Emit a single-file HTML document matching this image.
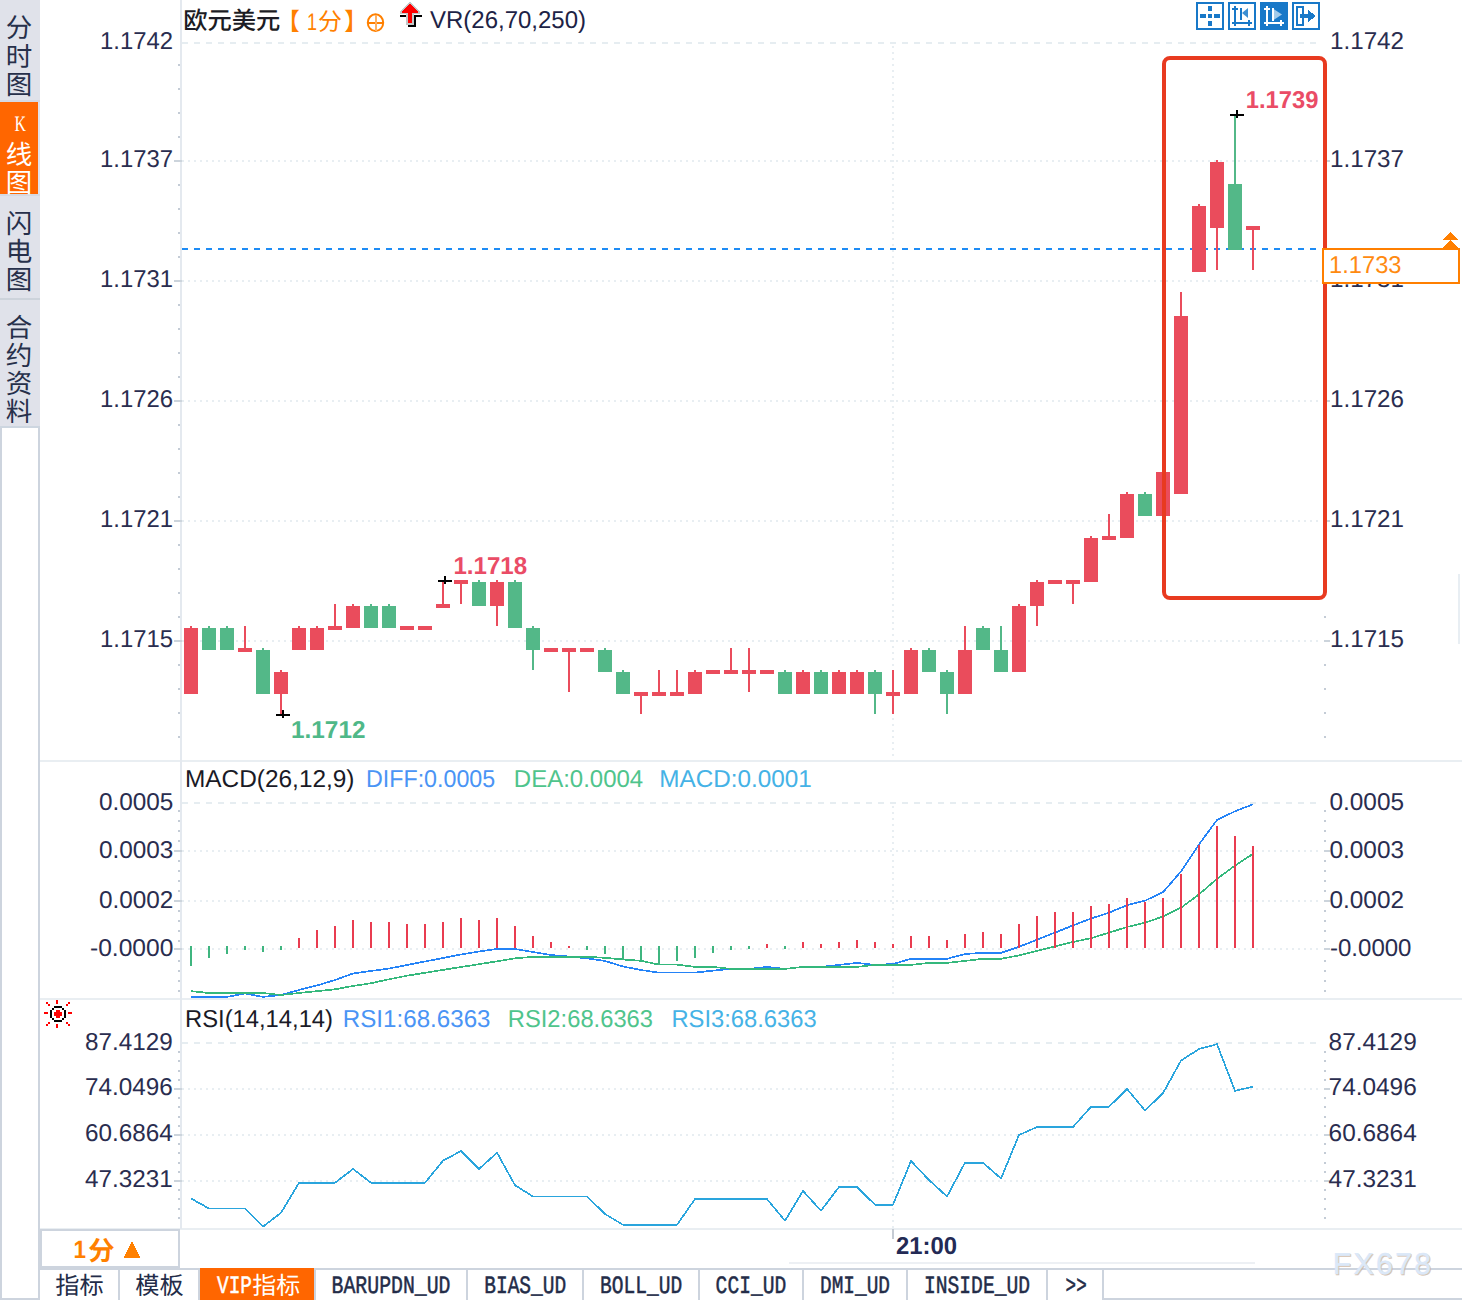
<!DOCTYPE html>
<html><head><meta charset="utf-8"><title>chart</title>
<style>
html,body{margin:0;padding:0;background:#fff}
body{width:1462px;height:1300px;overflow:hidden;font-family:"Liberation Sans",sans-serif}
svg{display:block}
</style></head><body>
<svg width="1462" height="1300" viewBox="0 0 1462 1300" shape-rendering="crispEdges" text-rendering="geometricPrecision">
<rect x="0" y="0" width="1462" height="1300" fill="#fff"/>
<rect x="0" y="0" width="40" height="426" fill="#e0e2ea"/>
<rect x="0" y="102" width="38" height="92" fill="#ff6600"/>
<rect x="0" y="100" width="40" height="2" fill="#d5d9e2"/>
<rect x="0" y="194" width="40" height="2" fill="#d5d9e2"/>
<rect x="0" y="298" width="40" height="2" fill="#cdd3db"/>
<rect x="0" y="426" width="40" height="874" fill="#fff"/>
<rect x="0" y="426" width="2" height="874" fill="#cdd4de"/>
<rect x="38" y="426" width="2" height="874" fill="#cdd4de"/>
<rect x="0" y="1298" width="40" height="2" fill="#cdd4de"/>
<rect x="0" y="426" width="40" height="2" fill="#cdd6e0"/>
<text x="5.75" y="36.6" font-family="'Liberation Sans','Noto Sans CJK SC',sans-serif" font-size="26.5" fill="#27304a">分</text>
<text x="5.75" y="65.6" font-family="'Liberation Sans','Noto Sans CJK SC',sans-serif" font-size="26.5" fill="#27304a">时</text>
<text x="5.75" y="93.6" font-family="'Liberation Sans','Noto Sans CJK SC',sans-serif" font-size="26.5" fill="#27304a">图</text>
<text x="5.75" y="163.6" font-family="'Liberation Sans','Noto Sans CJK SC',sans-serif" font-size="26.5" fill="#fff">线</text>
<text x="5.75" y="191.6" font-family="'Liberation Sans','Noto Sans CJK SC',sans-serif" font-size="26.5" fill="#fff">图</text>
<text x="5.75" y="232.6" font-family="'Liberation Sans','Noto Sans CJK SC',sans-serif" font-size="26.5" fill="#27304a">闪</text>
<text x="5.75" y="260.6" font-family="'Liberation Sans','Noto Sans CJK SC',sans-serif" font-size="26.5" fill="#27304a">电</text>
<text x="5.75" y="288.6" font-family="'Liberation Sans','Noto Sans CJK SC',sans-serif" font-size="26.5" fill="#27304a">图</text>
<text x="5.75" y="336.6" font-family="'Liberation Sans','Noto Sans CJK SC',sans-serif" font-size="26.5" fill="#27304a">合</text>
<text x="5.75" y="364.6" font-family="'Liberation Sans','Noto Sans CJK SC',sans-serif" font-size="26.5" fill="#27304a">约</text>
<text x="5.75" y="392.6" font-family="'Liberation Sans','Noto Sans CJK SC',sans-serif" font-size="26.5" fill="#27304a">资</text>
<text x="5.75" y="420.6" font-family="'Liberation Sans','Noto Sans CJK SC',sans-serif" font-size="26.5" fill="#27304a">料</text>
<text x="14.5" y="131.0" textLength="11.5" lengthAdjust="spacingAndGlyphs" font-family="Liberation Serif" font-size="22" font-weight="normal" fill="#fff">K</text>
<rect x="40" y="760" width="1422" height="2" fill="#e9eef2"/>
<rect x="40" y="998" width="1422" height="2" fill="#e9eef2"/>
<rect x="40" y="1228" width="1422" height="2" fill="#e9eef2"/>
<rect x="180" y="0" width="2" height="1229" fill="#e4e9ef"/>
<rect x="1458" y="574" width="2" height="70" fill="#e8eef3"/>
<line x1="182" y1="43" x2="1322" y2="43" stroke="#e6edf1" stroke-width="2" stroke-dasharray="6 6"/>
<line x1="182" y1="161" x2="1320" y2="161" stroke="#e8eef2" stroke-width="2" stroke-dasharray="2 4"/>
<line x1="182" y1="281" x2="1320" y2="281" stroke="#e8eef2" stroke-width="2" stroke-dasharray="2 4"/>
<line x1="182" y1="401" x2="1320" y2="401" stroke="#e8eef2" stroke-width="2" stroke-dasharray="2 4"/>
<line x1="182" y1="521" x2="1320" y2="521" stroke="#e8eef2" stroke-width="2" stroke-dasharray="2 4"/>
<line x1="182" y1="641" x2="1320" y2="641" stroke="#e8eef2" stroke-width="2" stroke-dasharray="2 4"/>
<line x1="182" y1="803" x2="1322" y2="803" stroke="#e6edf1" stroke-width="2" stroke-dasharray="6 6"/>
<line x1="182" y1="851" x2="1320" y2="851" stroke="#e8eef2" stroke-width="2" stroke-dasharray="2 4"/>
<line x1="182" y1="901" x2="1320" y2="901" stroke="#e8eef2" stroke-width="2" stroke-dasharray="2 4"/>
<line x1="182" y1="949" x2="1320" y2="949" stroke="#e8eef2" stroke-width="2" stroke-dasharray="2 4"/>
<line x1="182" y1="1043" x2="1322" y2="1043" stroke="#e6edf1" stroke-width="2" stroke-dasharray="6 6"/>
<line x1="182" y1="1089" x2="1320" y2="1089" stroke="#e8eef2" stroke-width="2" stroke-dasharray="2 4"/>
<line x1="182" y1="1135" x2="1320" y2="1135" stroke="#e8eef2" stroke-width="2" stroke-dasharray="2 4"/>
<line x1="182" y1="1181" x2="1320" y2="1181" stroke="#e8eef2" stroke-width="2" stroke-dasharray="2 4"/>
<line x1="893" y1="46" x2="893" y2="760" stroke="#e8eef2" stroke-width="2" stroke-dasharray="2 4"/>
<line x1="893" y1="806" x2="893" y2="998" stroke="#e8eef2" stroke-width="2" stroke-dasharray="2 4"/>
<line x1="893" y1="1046" x2="893" y2="1228" stroke="#e8eef2" stroke-width="2" stroke-dasharray="2 4"/>
<rect x="178" y="64" width="2" height="2" fill="#c4ccd6"/>
<rect x="1324" y="64" width="2" height="2" fill="#c4ccd6"/>
<rect x="178" y="88" width="2" height="2" fill="#c4ccd6"/>
<rect x="1324" y="88" width="2" height="2" fill="#c4ccd6"/>
<rect x="178" y="112" width="2" height="2" fill="#c4ccd6"/>
<rect x="1324" y="112" width="2" height="2" fill="#c4ccd6"/>
<rect x="178" y="136" width="2" height="2" fill="#c4ccd6"/>
<rect x="1324" y="136" width="2" height="2" fill="#c4ccd6"/>
<rect x="178" y="184" width="2" height="2" fill="#c4ccd6"/>
<rect x="1324" y="184" width="2" height="2" fill="#c4ccd6"/>
<rect x="178" y="208" width="2" height="2" fill="#c4ccd6"/>
<rect x="1324" y="208" width="2" height="2" fill="#c4ccd6"/>
<rect x="178" y="232" width="2" height="2" fill="#c4ccd6"/>
<rect x="1324" y="232" width="2" height="2" fill="#c4ccd6"/>
<rect x="178" y="256" width="2" height="2" fill="#c4ccd6"/>
<rect x="1324" y="256" width="2" height="2" fill="#c4ccd6"/>
<rect x="178" y="304" width="2" height="2" fill="#c4ccd6"/>
<rect x="1324" y="304" width="2" height="2" fill="#c4ccd6"/>
<rect x="178" y="328" width="2" height="2" fill="#c4ccd6"/>
<rect x="1324" y="328" width="2" height="2" fill="#c4ccd6"/>
<rect x="178" y="352" width="2" height="2" fill="#c4ccd6"/>
<rect x="1324" y="352" width="2" height="2" fill="#c4ccd6"/>
<rect x="178" y="376" width="2" height="2" fill="#c4ccd6"/>
<rect x="1324" y="376" width="2" height="2" fill="#c4ccd6"/>
<rect x="178" y="424" width="2" height="2" fill="#c4ccd6"/>
<rect x="1324" y="424" width="2" height="2" fill="#c4ccd6"/>
<rect x="178" y="448" width="2" height="2" fill="#c4ccd6"/>
<rect x="1324" y="448" width="2" height="2" fill="#c4ccd6"/>
<rect x="178" y="472" width="2" height="2" fill="#c4ccd6"/>
<rect x="1324" y="472" width="2" height="2" fill="#c4ccd6"/>
<rect x="178" y="496" width="2" height="2" fill="#c4ccd6"/>
<rect x="1324" y="496" width="2" height="2" fill="#c4ccd6"/>
<rect x="178" y="544" width="2" height="2" fill="#c4ccd6"/>
<rect x="1324" y="544" width="2" height="2" fill="#c4ccd6"/>
<rect x="178" y="568" width="2" height="2" fill="#c4ccd6"/>
<rect x="1324" y="568" width="2" height="2" fill="#c4ccd6"/>
<rect x="178" y="592" width="2" height="2" fill="#c4ccd6"/>
<rect x="1324" y="592" width="2" height="2" fill="#c4ccd6"/>
<rect x="178" y="616" width="2" height="2" fill="#c4ccd6"/>
<rect x="1324" y="616" width="2" height="2" fill="#c4ccd6"/>
<rect x="178" y="664" width="2" height="2" fill="#c4ccd6"/>
<rect x="1324" y="664" width="2" height="2" fill="#c4ccd6"/>
<rect x="178" y="688" width="2" height="2" fill="#c4ccd6"/>
<rect x="1324" y="688" width="2" height="2" fill="#c4ccd6"/>
<rect x="178" y="712" width="2" height="2" fill="#c4ccd6"/>
<rect x="1324" y="712" width="2" height="2" fill="#c4ccd6"/>
<rect x="178" y="736" width="2" height="2" fill="#c4ccd6"/>
<rect x="1324" y="736" width="2" height="2" fill="#c4ccd6"/>
<rect x="174" y="160" width="8" height="2" fill="#ccd4dc"/>
<rect x="1324" y="160" width="6" height="2" fill="#ccd4dc"/>
<rect x="174" y="280" width="8" height="2" fill="#ccd4dc"/>
<rect x="1324" y="280" width="6" height="2" fill="#ccd4dc"/>
<rect x="174" y="400" width="8" height="2" fill="#ccd4dc"/>
<rect x="1324" y="400" width="6" height="2" fill="#ccd4dc"/>
<rect x="174" y="520" width="8" height="2" fill="#ccd4dc"/>
<rect x="1324" y="520" width="6" height="2" fill="#ccd4dc"/>
<rect x="174" y="640" width="8" height="2" fill="#ccd4dc"/>
<rect x="1324" y="640" width="6" height="2" fill="#ccd4dc"/>
<rect x="178" y="810" width="2" height="2" fill="#c4ccd6"/>
<rect x="1324" y="810" width="2" height="2" fill="#c4ccd6"/>
<rect x="178" y="820" width="2" height="2" fill="#c4ccd6"/>
<rect x="1324" y="820" width="2" height="2" fill="#c4ccd6"/>
<rect x="178" y="830" width="2" height="2" fill="#c4ccd6"/>
<rect x="1324" y="830" width="2" height="2" fill="#c4ccd6"/>
<rect x="178" y="840" width="2" height="2" fill="#c4ccd6"/>
<rect x="1324" y="840" width="2" height="2" fill="#c4ccd6"/>
<rect x="178" y="860" width="2" height="2" fill="#c4ccd6"/>
<rect x="1324" y="860" width="2" height="2" fill="#c4ccd6"/>
<rect x="178" y="870" width="2" height="2" fill="#c4ccd6"/>
<rect x="1324" y="870" width="2" height="2" fill="#c4ccd6"/>
<rect x="178" y="880" width="2" height="2" fill="#c4ccd6"/>
<rect x="1324" y="880" width="2" height="2" fill="#c4ccd6"/>
<rect x="178" y="890" width="2" height="2" fill="#c4ccd6"/>
<rect x="1324" y="890" width="2" height="2" fill="#c4ccd6"/>
<rect x="178" y="910" width="2" height="2" fill="#c4ccd6"/>
<rect x="1324" y="910" width="2" height="2" fill="#c4ccd6"/>
<rect x="178" y="920" width="2" height="2" fill="#c4ccd6"/>
<rect x="1324" y="920" width="2" height="2" fill="#c4ccd6"/>
<rect x="178" y="930" width="2" height="2" fill="#c4ccd6"/>
<rect x="1324" y="930" width="2" height="2" fill="#c4ccd6"/>
<rect x="178" y="940" width="2" height="2" fill="#c4ccd6"/>
<rect x="1324" y="940" width="2" height="2" fill="#c4ccd6"/>
<rect x="178" y="960" width="2" height="2" fill="#c4ccd6"/>
<rect x="1324" y="960" width="2" height="2" fill="#c4ccd6"/>
<rect x="178" y="970" width="2" height="2" fill="#c4ccd6"/>
<rect x="1324" y="970" width="2" height="2" fill="#c4ccd6"/>
<rect x="178" y="980" width="2" height="2" fill="#c4ccd6"/>
<rect x="1324" y="980" width="2" height="2" fill="#c4ccd6"/>
<rect x="178" y="990" width="2" height="2" fill="#c4ccd6"/>
<rect x="1324" y="990" width="2" height="2" fill="#c4ccd6"/>
<rect x="174" y="850" width="8" height="2" fill="#ccd4dc"/>
<rect x="1324" y="850" width="6" height="2" fill="#ccd4dc"/>
<rect x="174" y="900" width="8" height="2" fill="#ccd4dc"/>
<rect x="1324" y="900" width="6" height="2" fill="#ccd4dc"/>
<rect x="174" y="948" width="8" height="2" fill="#ccd4dc"/>
<rect x="1324" y="948" width="6" height="2" fill="#ccd4dc"/>
<rect x="178" y="1051" width="2" height="2" fill="#c4ccd6"/>
<rect x="1324" y="1051" width="2" height="2" fill="#c4ccd6"/>
<rect x="178" y="1060" width="2" height="2" fill="#c4ccd6"/>
<rect x="1324" y="1060" width="2" height="2" fill="#c4ccd6"/>
<rect x="178" y="1070" width="2" height="2" fill="#c4ccd6"/>
<rect x="1324" y="1070" width="2" height="2" fill="#c4ccd6"/>
<rect x="178" y="1079" width="2" height="2" fill="#c4ccd6"/>
<rect x="1324" y="1079" width="2" height="2" fill="#c4ccd6"/>
<rect x="178" y="1097" width="2" height="2" fill="#c4ccd6"/>
<rect x="1324" y="1097" width="2" height="2" fill="#c4ccd6"/>
<rect x="178" y="1106" width="2" height="2" fill="#c4ccd6"/>
<rect x="1324" y="1106" width="2" height="2" fill="#c4ccd6"/>
<rect x="178" y="1116" width="2" height="2" fill="#c4ccd6"/>
<rect x="1324" y="1116" width="2" height="2" fill="#c4ccd6"/>
<rect x="178" y="1125" width="2" height="2" fill="#c4ccd6"/>
<rect x="1324" y="1125" width="2" height="2" fill="#c4ccd6"/>
<rect x="178" y="1143" width="2" height="2" fill="#c4ccd6"/>
<rect x="1324" y="1143" width="2" height="2" fill="#c4ccd6"/>
<rect x="178" y="1152" width="2" height="2" fill="#c4ccd6"/>
<rect x="1324" y="1152" width="2" height="2" fill="#c4ccd6"/>
<rect x="178" y="1162" width="2" height="2" fill="#c4ccd6"/>
<rect x="1324" y="1162" width="2" height="2" fill="#c4ccd6"/>
<rect x="178" y="1171" width="2" height="2" fill="#c4ccd6"/>
<rect x="1324" y="1171" width="2" height="2" fill="#c4ccd6"/>
<rect x="178" y="1189" width="2" height="2" fill="#c4ccd6"/>
<rect x="1324" y="1189" width="2" height="2" fill="#c4ccd6"/>
<rect x="178" y="1198" width="2" height="2" fill="#c4ccd6"/>
<rect x="1324" y="1198" width="2" height="2" fill="#c4ccd6"/>
<rect x="178" y="1208" width="2" height="2" fill="#c4ccd6"/>
<rect x="1324" y="1208" width="2" height="2" fill="#c4ccd6"/>
<rect x="178" y="1217" width="2" height="2" fill="#c4ccd6"/>
<rect x="1324" y="1217" width="2" height="2" fill="#c4ccd6"/>
<rect x="174" y="1088" width="8" height="2" fill="#ccd4dc"/>
<rect x="1324" y="1088" width="6" height="2" fill="#ccd4dc"/>
<rect x="174" y="1134" width="8" height="2" fill="#ccd4dc"/>
<rect x="1324" y="1134" width="6" height="2" fill="#ccd4dc"/>
<rect x="174" y="1180" width="8" height="2" fill="#ccd4dc"/>
<rect x="1324" y="1180" width="6" height="2" fill="#ccd4dc"/>
<line x1="182" y1="249" x2="1322" y2="249" stroke="#1e8cf5" stroke-width="2" stroke-dasharray="6 6"/>
<rect x="190" y="626" width="2" height="2" fill="#ea4c5c"/>
<rect x="184" y="628" width="14" height="66" fill="#ea4c5c"/>
<rect x="208" y="626" width="2" height="2" fill="#53b888"/>
<rect x="202" y="628" width="14" height="22" fill="#53b888"/>
<rect x="226" y="626" width="2" height="2" fill="#53b888"/>
<rect x="220" y="628" width="14" height="22" fill="#53b888"/>
<rect x="244" y="626" width="2" height="22" fill="#ea4c5c"/>
<rect x="238" y="648" width="14" height="4" fill="#ea4c5c"/>
<rect x="262" y="648" width="2" height="2" fill="#53b888"/>
<rect x="256" y="650" width="14" height="44" fill="#53b888"/>
<rect x="280" y="670" width="2" height="2" fill="#ea4c5c"/>
<rect x="280" y="694" width="2" height="21" fill="#ea4c5c"/>
<rect x="274" y="672" width="14" height="22" fill="#ea4c5c"/>
<rect x="298" y="626" width="2" height="2" fill="#ea4c5c"/>
<rect x="292" y="628" width="14" height="22" fill="#ea4c5c"/>
<rect x="316" y="626" width="2" height="2" fill="#ea4c5c"/>
<rect x="310" y="628" width="14" height="22" fill="#ea4c5c"/>
<rect x="334" y="604" width="2" height="22" fill="#ea4c5c"/>
<rect x="328" y="626" width="14" height="4" fill="#ea4c5c"/>
<rect x="352" y="604" width="2" height="2" fill="#ea4c5c"/>
<rect x="346" y="606" width="14" height="22" fill="#ea4c5c"/>
<rect x="370" y="604" width="2" height="2" fill="#53b888"/>
<rect x="364" y="606" width="14" height="22" fill="#53b888"/>
<rect x="388" y="604" width="2" height="2" fill="#53b888"/>
<rect x="382" y="606" width="14" height="22" fill="#53b888"/>
<rect x="400" y="626" width="14" height="4" fill="#ea4c5c"/>
<rect x="418" y="626" width="14" height="4" fill="#ea4c5c"/>
<rect x="442" y="580" width="2" height="24" fill="#ea4c5c"/>
<rect x="436" y="604" width="14" height="4" fill="#ea4c5c"/>
<rect x="460" y="584" width="2" height="20" fill="#ea4c5c"/>
<rect x="454" y="580" width="14" height="4" fill="#ea4c5c"/>
<rect x="478" y="580" width="2" height="2" fill="#53b888"/>
<rect x="472" y="582" width="14" height="24" fill="#53b888"/>
<rect x="496" y="580" width="2" height="2" fill="#ea4c5c"/>
<rect x="496" y="606" width="2" height="20" fill="#ea4c5c"/>
<rect x="490" y="582" width="14" height="24" fill="#ea4c5c"/>
<rect x="514" y="580" width="2" height="2" fill="#53b888"/>
<rect x="508" y="582" width="14" height="46" fill="#53b888"/>
<rect x="532" y="626" width="2" height="2" fill="#53b888"/>
<rect x="532" y="650" width="2" height="20" fill="#53b888"/>
<rect x="526" y="628" width="14" height="22" fill="#53b888"/>
<rect x="544" y="648" width="14" height="4" fill="#ea4c5c"/>
<rect x="568" y="652" width="2" height="40" fill="#ea4c5c"/>
<rect x="562" y="648" width="14" height="4" fill="#ea4c5c"/>
<rect x="580" y="648" width="14" height="4" fill="#ea4c5c"/>
<rect x="604" y="648" width="2" height="2" fill="#53b888"/>
<rect x="598" y="650" width="14" height="22" fill="#53b888"/>
<rect x="622" y="670" width="2" height="2" fill="#53b888"/>
<rect x="616" y="672" width="14" height="22" fill="#53b888"/>
<rect x="640" y="696" width="2" height="18" fill="#ea4c5c"/>
<rect x="634" y="692" width="14" height="4" fill="#ea4c5c"/>
<rect x="658" y="670" width="2" height="22" fill="#ea4c5c"/>
<rect x="652" y="692" width="14" height="4" fill="#ea4c5c"/>
<rect x="676" y="670" width="2" height="22" fill="#ea4c5c"/>
<rect x="670" y="692" width="14" height="4" fill="#ea4c5c"/>
<rect x="694" y="670" width="2" height="2" fill="#ea4c5c"/>
<rect x="688" y="672" width="14" height="22" fill="#ea4c5c"/>
<rect x="706" y="670" width="14" height="4" fill="#ea4c5c"/>
<rect x="730" y="648" width="2" height="22" fill="#ea4c5c"/>
<rect x="724" y="670" width="14" height="4" fill="#ea4c5c"/>
<rect x="748" y="648" width="2" height="22" fill="#ea4c5c"/>
<rect x="748" y="674" width="2" height="18" fill="#ea4c5c"/>
<rect x="742" y="670" width="14" height="4" fill="#ea4c5c"/>
<rect x="760" y="670" width="14" height="4" fill="#ea4c5c"/>
<rect x="784" y="670" width="2" height="2" fill="#53b888"/>
<rect x="778" y="672" width="14" height="22" fill="#53b888"/>
<rect x="802" y="670" width="2" height="2" fill="#ea4c5c"/>
<rect x="796" y="672" width="14" height="22" fill="#ea4c5c"/>
<rect x="820" y="670" width="2" height="2" fill="#53b888"/>
<rect x="814" y="672" width="14" height="22" fill="#53b888"/>
<rect x="838" y="670" width="2" height="2" fill="#ea4c5c"/>
<rect x="832" y="672" width="14" height="22" fill="#ea4c5c"/>
<rect x="856" y="670" width="2" height="2" fill="#ea4c5c"/>
<rect x="850" y="672" width="14" height="22" fill="#ea4c5c"/>
<rect x="874" y="670" width="2" height="2" fill="#53b888"/>
<rect x="874" y="694" width="2" height="20" fill="#53b888"/>
<rect x="868" y="672" width="14" height="22" fill="#53b888"/>
<rect x="892" y="670" width="2" height="22" fill="#ea4c5c"/>
<rect x="892" y="696" width="2" height="18" fill="#ea4c5c"/>
<rect x="886" y="692" width="14" height="4" fill="#ea4c5c"/>
<rect x="910" y="648" width="2" height="2" fill="#ea4c5c"/>
<rect x="904" y="650" width="14" height="44" fill="#ea4c5c"/>
<rect x="928" y="648" width="2" height="2" fill="#53b888"/>
<rect x="922" y="650" width="14" height="22" fill="#53b888"/>
<rect x="946" y="670" width="2" height="2" fill="#53b888"/>
<rect x="946" y="694" width="2" height="20" fill="#53b888"/>
<rect x="940" y="672" width="14" height="22" fill="#53b888"/>
<rect x="964" y="626" width="2" height="24" fill="#ea4c5c"/>
<rect x="958" y="650" width="14" height="44" fill="#ea4c5c"/>
<rect x="982" y="626" width="2" height="2" fill="#53b888"/>
<rect x="976" y="628" width="14" height="22" fill="#53b888"/>
<rect x="1000" y="626" width="2" height="24" fill="#53b888"/>
<rect x="994" y="650" width="14" height="22" fill="#53b888"/>
<rect x="1018" y="604" width="2" height="2" fill="#ea4c5c"/>
<rect x="1012" y="606" width="14" height="66" fill="#ea4c5c"/>
<rect x="1036" y="580" width="2" height="2" fill="#ea4c5c"/>
<rect x="1036" y="606" width="2" height="20" fill="#ea4c5c"/>
<rect x="1030" y="582" width="14" height="24" fill="#ea4c5c"/>
<rect x="1048" y="580" width="14" height="4" fill="#ea4c5c"/>
<rect x="1072" y="584" width="2" height="20" fill="#ea4c5c"/>
<rect x="1066" y="580" width="14" height="4" fill="#ea4c5c"/>
<rect x="1090" y="536" width="2" height="2" fill="#ea4c5c"/>
<rect x="1084" y="538" width="14" height="44" fill="#ea4c5c"/>
<rect x="1108" y="514" width="2" height="22" fill="#ea4c5c"/>
<rect x="1102" y="536" width="14" height="4" fill="#ea4c5c"/>
<rect x="1126" y="492" width="2" height="2" fill="#ea4c5c"/>
<rect x="1120" y="494" width="14" height="44" fill="#ea4c5c"/>
<rect x="1144" y="492" width="2" height="2" fill="#53b888"/>
<rect x="1138" y="494" width="14" height="22" fill="#53b888"/>
<rect x="1162" y="470" width="2" height="2" fill="#ea4c5c"/>
<rect x="1156" y="472" width="14" height="44" fill="#ea4c5c"/>
<rect x="1180" y="292" width="2" height="24" fill="#ea4c5c"/>
<rect x="1174" y="316" width="14" height="178" fill="#ea4c5c"/>
<rect x="1198" y="204" width="2" height="2" fill="#ea4c5c"/>
<rect x="1192" y="206" width="14" height="66" fill="#ea4c5c"/>
<rect x="1216" y="160" width="2" height="2" fill="#ea4c5c"/>
<rect x="1216" y="228" width="2" height="42" fill="#ea4c5c"/>
<rect x="1210" y="162" width="14" height="66" fill="#ea4c5c"/>
<rect x="1234" y="115" width="2" height="69" fill="#53b888"/>
<rect x="1228" y="184" width="14" height="66" fill="#53b888"/>
<rect x="1252" y="230" width="2" height="40" fill="#ea4c5c"/>
<rect x="1246" y="226" width="14" height="4" fill="#ea4c5c"/>
<rect x="1230" y="114" width="14" height="2" fill="#000"/>
<rect x="1236" y="110" width="2" height="8" fill="#000"/>
<rect x="438" y="579.5" width="14" height="2" fill="#000"/>
<rect x="444" y="575.5" width="2" height="8" fill="#000"/>
<rect x="276" y="714" width="14" height="2" fill="#000"/>
<rect x="282" y="710" width="2" height="8" fill="#000"/>
<rect x="1164" y="58" width="161" height="540" rx="6" ry="6" fill="none" stroke="#e83a20" stroke-width="4" shape-rendering="geometricPrecision"/>
<polyline points="191,996.9 209,996.9 227,996.9 245,993.5 263,996.9 281,995 299,990 317,985.5 335,980 353,973.5 371,971 389,968.5 407,965 425,961.5 443,958 461,954.5 479,951.5 497,949 515,949 533,952 551,955 569,956.5 587,958.3 605,961 623,966.5 641,970 659,972.6 677,972.6 695,972.6 713,970.6 731,968.9 749,968.9 767,966.9 785,968.9 803,966.9 821,966.9 839,964.9 857,962.9 875,964.9 893,964 911,958.8 929,958.8 947,958.8 965,954 983,952.8 1001,952.8 1019,946.8 1037,939.7 1055,932.6 1073,925.4 1091,918.5 1109,912.7 1127,905.2 1145,900.7 1163,892.2 1181,871.4 1199,844.4 1217,820 1235,811.3 1253,804.3" fill="none" stroke="#2483f7" stroke-width="1.7" stroke-linejoin="round"/>
<polyline points="191,991.2 209,993 227,993 245,993 263,993 281,995 299,993 317,991.2 335,989.3 353,986 371,983.2 389,979.3 407,975.7 425,972.8 443,969.9 461,967 479,964.2 497,961.3 515,958.4 533,956.8 551,956.8 569,956.8 587,956.8 605,957.8 623,959.5 641,960.8 659,964.6 677,964.6 695,966.9 713,966.9 731,968.9 749,968.9 767,968.9 785,968.9 803,966.9 821,966.9 839,966.9 857,966.9 875,964.9 893,964.9 911,964.9 929,962.9 947,962.9 965,960.9 983,958.8 1001,958.8 1019,955.4 1037,951 1055,946.5 1073,942 1091,938.2 1109,932.7 1127,927 1145,922.7 1163,916.5 1181,907.7 1199,894.4 1217,878.9 1235,865.6 1253,853.9" fill="none" stroke="#34b87c" stroke-width="1.7" stroke-linejoin="round"/>
<rect x="190" y="946" width="2" height="20" fill="#3fb57f"/>
<rect x="208" y="946" width="2" height="12" fill="#3fb57f"/>
<rect x="226" y="946" width="2" height="7.5" fill="#3fb57f"/>
<rect x="244" y="946" width="2" height="3.5" fill="#3fb57f"/>
<rect x="262" y="946" width="2" height="5.5" fill="#3fb57f"/>
<rect x="280" y="946" width="2" height="4" fill="#3fb57f"/>
<rect x="298" y="938" width="2" height="10" fill="#e93c50"/>
<rect x="316" y="930" width="2" height="18" fill="#e93c50"/>
<rect x="334" y="926" width="2" height="22" fill="#e93c50"/>
<rect x="352" y="920" width="2" height="28" fill="#e93c50"/>
<rect x="370" y="922" width="2" height="26" fill="#e93c50"/>
<rect x="388" y="922" width="2" height="26" fill="#e93c50"/>
<rect x="406" y="924" width="2" height="24" fill="#e93c50"/>
<rect x="424" y="924" width="2" height="24" fill="#e93c50"/>
<rect x="442" y="922" width="2" height="26" fill="#e93c50"/>
<rect x="460" y="918" width="2" height="30" fill="#e93c50"/>
<rect x="478" y="920" width="2" height="28" fill="#e93c50"/>
<rect x="496" y="918" width="2" height="30" fill="#e93c50"/>
<rect x="514" y="926" width="2" height="22" fill="#e93c50"/>
<rect x="532" y="936" width="2" height="12" fill="#e93c50"/>
<rect x="550" y="942" width="2" height="6" fill="#e93c50"/>
<rect x="568" y="946" width="2" height="2" fill="#e93c50"/>
<rect x="586" y="946" width="2" height="4" fill="#3fb57f"/>
<rect x="604" y="946" width="2" height="8" fill="#3fb57f"/>
<rect x="622" y="946" width="2" height="14" fill="#3fb57f"/>
<rect x="640" y="946" width="2" height="14" fill="#3fb57f"/>
<rect x="658" y="946" width="2" height="18.5" fill="#3fb57f"/>
<rect x="676" y="946" width="2" height="15" fill="#3fb57f"/>
<rect x="694" y="946" width="2" height="11.5" fill="#3fb57f"/>
<rect x="712" y="946" width="2" height="7" fill="#3fb57f"/>
<rect x="730" y="946" width="2" height="4" fill="#3fb57f"/>
<rect x="748" y="946" width="2" height="3" fill="#3fb57f"/>
<rect x="766" y="944" width="2" height="4" fill="#e93c50"/>
<rect x="784" y="946" width="2" height="3" fill="#3fb57f"/>
<rect x="802" y="942" width="2" height="6" fill="#e93c50"/>
<rect x="820" y="944" width="2" height="4" fill="#e93c50"/>
<rect x="838" y="942" width="2" height="6" fill="#e93c50"/>
<rect x="856" y="940" width="2" height="8" fill="#e93c50"/>
<rect x="874" y="942" width="2" height="6" fill="#e93c50"/>
<rect x="892" y="944" width="2" height="4" fill="#e93c50"/>
<rect x="910" y="936" width="2" height="12" fill="#e93c50"/>
<rect x="928" y="936" width="2" height="12" fill="#e93c50"/>
<rect x="946" y="940" width="2" height="8" fill="#e93c50"/>
<rect x="964" y="934" width="2" height="14" fill="#e93c50"/>
<rect x="982" y="932" width="2" height="16" fill="#e93c50"/>
<rect x="1000" y="934" width="2" height="14" fill="#e93c50"/>
<rect x="1018" y="924" width="2" height="24" fill="#e93c50"/>
<rect x="1036" y="916" width="2" height="32" fill="#e93c50"/>
<rect x="1054" y="912" width="2" height="36" fill="#e93c50"/>
<rect x="1072" y="912" width="2" height="36" fill="#e93c50"/>
<rect x="1090" y="906" width="2" height="42" fill="#e93c50"/>
<rect x="1108" y="904" width="2" height="44" fill="#e93c50"/>
<rect x="1126" y="898" width="2" height="50" fill="#e93c50"/>
<rect x="1144" y="902" width="2" height="46" fill="#e93c50"/>
<rect x="1162" y="898" width="2" height="50" fill="#e93c50"/>
<rect x="1180" y="874" width="2" height="74" fill="#e93c50"/>
<rect x="1198" y="845" width="2" height="103" fill="#e93c50"/>
<rect x="1216" y="826" width="2" height="122" fill="#e93c50"/>
<rect x="1234" y="836" width="2" height="112" fill="#e93c50"/>
<rect x="1252" y="846" width="2" height="102" fill="#e93c50"/>
<polyline points="191,1198.5 209,1208.5 227,1208.5 245,1208.5 263,1226.6 281,1212.8 299,1182.8 317,1182.8 335,1182.8 353,1169 371,1182.7 389,1182.7 407,1182.7 425,1182.7 443,1160.7 461,1151 479,1169 497,1152.7 515,1185.2 533,1196.5 551,1196.5 569,1196.5 587,1196.5 605,1214 623,1224.8 641,1224.8 659,1224.8 677,1224.8 695,1199 713,1199 731,1199 749,1199 767,1199 785,1220.8 803,1191 821,1210.7 839,1187 857,1187 875,1204.7 893,1204.7 911,1161 929,1180 947,1196.5 965,1162.7 983,1162.7 1001,1178.5 1019,1135 1037,1127 1055,1127 1073,1127 1091,1106.8 1109,1106.8 1127,1088.9 1145,1110.5 1163,1093.2 1181,1060.6 1199,1049 1217,1044.2 1235,1090.9 1253,1086.6" fill="none" stroke="#2aa5dd" stroke-width="1.7" stroke-linejoin="round"/>
<text x="100.0" y="49.0" textLength="73.0" lengthAdjust="spacingAndGlyphs" font-family="Liberation Sans" font-size="24.5" font-weight="normal" fill="#2a2d4f">1.1742</text>
<text x="1330.0" y="49.0" textLength="74.0" lengthAdjust="spacingAndGlyphs" font-family="Liberation Sans" font-size="24.5" font-weight="normal" fill="#2a2d4f">1.1742</text>
<text x="100.0" y="167.0" textLength="73.0" lengthAdjust="spacingAndGlyphs" font-family="Liberation Sans" font-size="24.5" font-weight="normal" fill="#2a2d4f">1.1737</text>
<text x="1330.0" y="167.0" textLength="74.0" lengthAdjust="spacingAndGlyphs" font-family="Liberation Sans" font-size="24.5" font-weight="normal" fill="#2a2d4f">1.1737</text>
<text x="100.0" y="287.0" textLength="73.0" lengthAdjust="spacingAndGlyphs" font-family="Liberation Sans" font-size="24.5" font-weight="normal" fill="#2a2d4f">1.1731</text>
<text x="1330.0" y="287.0" textLength="74.0" lengthAdjust="spacingAndGlyphs" font-family="Liberation Sans" font-size="24.5" font-weight="normal" fill="#2a2d4f">1.1731</text>
<text x="100.0" y="407.0" textLength="73.0" lengthAdjust="spacingAndGlyphs" font-family="Liberation Sans" font-size="24.5" font-weight="normal" fill="#2a2d4f">1.1726</text>
<text x="1330.0" y="407.0" textLength="74.0" lengthAdjust="spacingAndGlyphs" font-family="Liberation Sans" font-size="24.5" font-weight="normal" fill="#2a2d4f">1.1726</text>
<text x="100.0" y="527.0" textLength="73.0" lengthAdjust="spacingAndGlyphs" font-family="Liberation Sans" font-size="24.5" font-weight="normal" fill="#2a2d4f">1.1721</text>
<text x="1330.0" y="527.0" textLength="74.0" lengthAdjust="spacingAndGlyphs" font-family="Liberation Sans" font-size="24.5" font-weight="normal" fill="#2a2d4f">1.1721</text>
<text x="100.0" y="647.0" textLength="73.0" lengthAdjust="spacingAndGlyphs" font-family="Liberation Sans" font-size="24.5" font-weight="normal" fill="#2a2d4f">1.1715</text>
<text x="1330.0" y="647.0" textLength="74.0" lengthAdjust="spacingAndGlyphs" font-family="Liberation Sans" font-size="24.5" font-weight="normal" fill="#2a2d4f">1.1715</text>
<text x="99.0" y="809.5" textLength="74.4" lengthAdjust="spacingAndGlyphs" font-family="Liberation Sans" font-size="24.5" font-weight="normal" fill="#2a2d4f">0.0005</text>
<text x="1329.5" y="809.5" textLength="74.5" lengthAdjust="spacingAndGlyphs" font-family="Liberation Sans" font-size="24.5" font-weight="normal" fill="#2a2d4f">0.0005</text>
<text x="99.0" y="857.5" textLength="74.4" lengthAdjust="spacingAndGlyphs" font-family="Liberation Sans" font-size="24.5" font-weight="normal" fill="#2a2d4f">0.0003</text>
<text x="1329.5" y="857.5" textLength="74.5" lengthAdjust="spacingAndGlyphs" font-family="Liberation Sans" font-size="24.5" font-weight="normal" fill="#2a2d4f">0.0003</text>
<text x="99.0" y="907.5" textLength="74.4" lengthAdjust="spacingAndGlyphs" font-family="Liberation Sans" font-size="24.5" font-weight="normal" fill="#2a2d4f">0.0002</text>
<text x="1329.5" y="907.5" textLength="74.5" lengthAdjust="spacingAndGlyphs" font-family="Liberation Sans" font-size="24.5" font-weight="normal" fill="#2a2d4f">0.0002</text>
<text x="90.0" y="955.5" textLength="83.4" lengthAdjust="spacingAndGlyphs" font-family="Liberation Sans" font-size="24.5" font-weight="normal" fill="#2a2d4f">-0.0000</text>
<text x="1330.0" y="955.5" textLength="81.5" lengthAdjust="spacingAndGlyphs" font-family="Liberation Sans" font-size="24.5" font-weight="normal" fill="#2a2d4f">-0.0000</text>
<text x="85.0" y="1049.5" textLength="87.7" lengthAdjust="spacingAndGlyphs" font-family="Liberation Sans" font-size="24.5" font-weight="normal" fill="#2a2d4f">87.4129</text>
<text x="1328.6" y="1049.5" textLength="88.1" lengthAdjust="spacingAndGlyphs" font-family="Liberation Sans" font-size="24.5" font-weight="normal" fill="#2a2d4f">87.4129</text>
<text x="85.0" y="1095.0" textLength="87.7" lengthAdjust="spacingAndGlyphs" font-family="Liberation Sans" font-size="24.5" font-weight="normal" fill="#2a2d4f">74.0496</text>
<text x="1328.6" y="1095.0" textLength="88.1" lengthAdjust="spacingAndGlyphs" font-family="Liberation Sans" font-size="24.5" font-weight="normal" fill="#2a2d4f">74.0496</text>
<text x="85.0" y="1141.0" textLength="87.7" lengthAdjust="spacingAndGlyphs" font-family="Liberation Sans" font-size="24.5" font-weight="normal" fill="#2a2d4f">60.6864</text>
<text x="1328.6" y="1141.0" textLength="88.1" lengthAdjust="spacingAndGlyphs" font-family="Liberation Sans" font-size="24.5" font-weight="normal" fill="#2a2d4f">60.6864</text>
<text x="85.0" y="1187.0" textLength="87.7" lengthAdjust="spacingAndGlyphs" font-family="Liberation Sans" font-size="24.5" font-weight="normal" fill="#2a2d4f">47.3231</text>
<text x="1328.6" y="1187.0" textLength="88.1" lengthAdjust="spacingAndGlyphs" font-family="Liberation Sans" font-size="24.5" font-weight="normal" fill="#2a2d4f">47.3231</text>
<rect x="1323" y="249" width="136" height="34" fill="#fff" stroke="#ff7f00" stroke-width="2"/>
<text x="1329.0" y="272.6" textLength="72.5" lengthAdjust="spacingAndGlyphs" font-family="Liberation Sans" font-size="24.5" font-weight="normal" fill="#ff8a10">1.1733</text>
<path d="M1450 232 L1458 240 L1442 240 Z M1450 240 L1458 248 L1442 248 Z" fill="#ff7f00"/>
<text x="183.2" y="28.5" textLength="97.2" lengthAdjust="spacingAndGlyphs" font-family="'Liberation Sans','Noto Sans CJK SC',sans-serif" font-size="24.3" font-weight="500" fill="#1c1c24">欧元美元</text>
<text x="276" y="29.5" font-family="'Liberation Sans','Noto Sans CJK SC',sans-serif" font-size="24" fill="#ff8000">【</text>
<text x="307.0" y="30.0" textLength="10.0" lengthAdjust="spacingAndGlyphs" font-family="Liberation Sans" font-size="24" font-weight="normal" fill="#ff8000">1</text>
<text x="318" y="29.5" font-family="'Liberation Sans','Noto Sans CJK SC',sans-serif" font-size="24" fill="#ff8000">分</text>
<text x="344" y="29.5" font-family="'Liberation Sans','Noto Sans CJK SC',sans-serif" font-size="24" fill="#ff8000">】</text>
<ellipse cx="375.5" cy="22.7" rx="7.7" ry="8.4" shape-rendering="geometricPrecision" fill="none" stroke="#ff8000" stroke-width="2"/>
<rect x="368" y="22" width="16" height="2" fill="#ff8000"/>
<rect x="375" y="15" width="1.5" height="16" fill="#ffb060"/>
<g transform="translate(0 0.6)">
<path d="M410 1 L420 11 L420 13.5 L414 13.5 L414 24 L406 24 L406 13.5 L400 13.5 L400 11 Z" fill="#c4c8c8"/>
<path d="M410 3 L418 11 L418 12 L412 12 L412 22 L408 22 L408 12 L402 12 L402 11 Z" fill="#ff0000"/>
<rect x="400" y="14" width="6" height="2" fill="#000"/>
<rect x="414" y="14" width="8" height="2" fill="#000"/>
<rect x="414" y="16" width="2" height="10" fill="#000"/>
<rect x="408" y="24" width="8" height="2" fill="#000"/>
</g>
<text x="430.0" y="27.8" textLength="156.0" lengthAdjust="spacingAndGlyphs" font-family="Liberation Sans" font-size="24.5" font-weight="normal" fill="#1d2346">VR(26,70,250)</text>
<text x="185.0" y="787.0" textLength="169.5" lengthAdjust="spacingAndGlyphs" font-family="Liberation Sans" font-size="24.5" font-weight="normal" fill="#1a1a26">MACD(26,12,9)</text>
<text x="366.0" y="787.0" textLength="129.2" lengthAdjust="spacingAndGlyphs" font-family="Liberation Sans" font-size="24.5" font-weight="normal" fill="#4a94f5">DIFF:0.0005</text>
<text x="513.8" y="787.0" textLength="129.4" lengthAdjust="spacingAndGlyphs" font-family="Liberation Sans" font-size="24.5" font-weight="normal" fill="#4fc48c">DEA:0.0004</text>
<text x="659.2" y="787.0" textLength="152.6" lengthAdjust="spacingAndGlyphs" font-family="Liberation Sans" font-size="24.5" font-weight="normal" fill="#45b2e6">MACD:0.0001</text>
<text x="185.0" y="1027.0" textLength="148.0" lengthAdjust="spacingAndGlyphs" font-family="Liberation Sans" font-size="24.5" font-weight="normal" fill="#1a1a26">RSI(14,14,14)</text>
<text x="342.8" y="1027.0" textLength="147.7" lengthAdjust="spacingAndGlyphs" font-family="Liberation Sans" font-size="24.5" font-weight="normal" fill="#4a94f5">RSI1:68.6363</text>
<text x="507.8" y="1027.0" textLength="145.2" lengthAdjust="spacingAndGlyphs" font-family="Liberation Sans" font-size="24.5" font-weight="normal" fill="#4fc48c">RSI2:68.6363</text>
<text x="671.4" y="1027.0" textLength="145.3" lengthAdjust="spacingAndGlyphs" font-family="Liberation Sans" font-size="24.5" font-weight="normal" fill="#45b2e6">RSI3:68.6363</text>
<text x="1245.8" y="107.5" textLength="72.7" lengthAdjust="spacingAndGlyphs" font-family="Liberation Sans" font-size="24.5" font-weight="bold" fill="#ea4c66">1.1739</text>
<text x="453.4" y="574.0" textLength="73.8" lengthAdjust="spacingAndGlyphs" font-family="Liberation Sans" font-size="24.5" font-weight="bold" fill="#ea4c66">1.1718</text>
<text x="291.0" y="738.0" textLength="74.5" lengthAdjust="spacingAndGlyphs" font-family="Liberation Sans" font-size="24.5" font-weight="bold" fill="#4fb888">1.1712</text>
<rect x="892" y="1229" width="2" height="10" fill="#c5cbd3"/>
<text x="896.0" y="1253.6" textLength="61.0" lengthAdjust="spacingAndGlyphs" font-family="Liberation Sans" font-size="24.5" font-weight="bold" fill="#232a55">21:00</text>
<rect x="789" y="1262" width="466" height="2" fill="#edf0f4"/>
<rect x="1197" y="3" width="26" height="26" fill="#fff" stroke="#1878c8" stroke-width="2"/>
<rect x="1229" y="3" width="26" height="26" fill="#fff" stroke="#1878c8" stroke-width="2"/>
<rect x="1260" y="2" width="28" height="28" fill="#1878c8"/>
<rect x="1293" y="3" width="26" height="26" fill="#fff" stroke="#1878c8" stroke-width="2"/>
<rect x="1208" y="6" width="4" height="5" fill="#1878c8"/>
<rect x="1208" y="21" width="4" height="5" fill="#1878c8"/>
<rect x="1200" y="14" width="6" height="4" fill="#1878c8"/>
<rect x="1214" y="14" width="6" height="4" fill="#1878c8"/>
<rect x="1208" y="14" width="4" height="4" fill="#1878c8"/>
<rect x="1234" y="6" width="2" height="20" fill="#1878c8"/>
<rect x="1232" y="22" width="20" height="2" fill="#1878c8"/>
<rect x="1232" y="8" width="6" height="2" fill="#1878c8"/>
<rect x="1248" y="20" width="2" height="6" fill="#1878c8"/>
<rect x="1240" y="8" width="2" height="12" fill="#1878c8"/>
<path d="M1242 13 L1248 8 L1248 18 Z" fill="#3d8fd2" shape-rendering="geometricPrecision"/>
<rect x="1266" y="6" width="2" height="20" fill="#fff"/>
<rect x="1264" y="22" width="20" height="2" fill="#fff"/>
<rect x="1264" y="8" width="6" height="2" fill="#fff"/>
<rect x="1280" y="20" width="2" height="6" fill="#fff"/>
<path d="M1272 8 L1282 14.5 L1272 21 Z" fill="#a4cbea" shape-rendering="geometricPrecision"/>
<rect x="1272" y="8" width="2" height="13" fill="#fff"/>
<rect x="1297" y="7" width="6" height="18" fill="none" stroke="#1878c8" stroke-width="2"/>
<rect x="1300" y="14" width="9" height="4" fill="#1878c8"/>
<path d="M1308 10 L1316 16 L1308 22 Z" fill="#1878c8"/>
<rect x="56" y="1000" width="2" height="4" fill="#ff0000"/>
<rect x="56" y="1024" width="2" height="4" fill="#ff0000"/>
<rect x="44" y="1012" width="4" height="2" fill="#ff0000"/>
<rect x="68" y="1012" width="4" height="2" fill="#ff0000"/>
<rect x="46" y="1002" width="2" height="2" fill="#ff0000"/>
<rect x="48" y="1004" width="2" height="2" fill="#ff0000"/>
<rect x="68" y="1002" width="2" height="2" fill="#ff0000"/>
<rect x="66" y="1004" width="2" height="2" fill="#ff0000"/>
<rect x="48" y="1022" width="2" height="2" fill="#ff0000"/>
<rect x="46" y="1024" width="2" height="2" fill="#ff0000"/>
<rect x="66" y="1022" width="2" height="2" fill="#ff0000"/>
<rect x="68" y="1024" width="2" height="2" fill="#ff0000"/>
<rect x="56" y="1010" width="4" height="8" fill="#ff0000"/>
<rect x="54" y="1012" width="8" height="4" fill="#ff0000"/>
<rect x="54" y="1006" width="8" height="2" fill="#000"/>
<rect x="54" y="1020" width="8" height="2" fill="#000"/>
<rect x="50" y="1010" width="2" height="8" fill="#000"/>
<rect x="64" y="1010" width="2" height="8" fill="#000"/>
<rect x="52" y="1008" width="2" height="2" fill="#000"/>
<rect x="62" y="1008" width="2" height="2" fill="#000"/>
<rect x="52" y="1018" width="2" height="2" fill="#000"/>
<rect x="62" y="1018" width="2" height="2" fill="#000"/>
<rect x="41" y="1230" width="138" height="37" fill="#fff" stroke="#cdd4de" stroke-width="2"/>
<text x="73.5" y="1258.0" textLength="12.5" lengthAdjust="spacingAndGlyphs" font-family="Liberation Sans" font-size="25" font-weight="bold" fill="#ff8000">1</text>
<text x="88.3" y="1259.82" font-family="'Liberation Sans','Noto Sans CJK SC',sans-serif" font-size="26.3" font-weight="bold" fill="#ff8000">分</text>
<path d="M132 1241.5 L140.5 1258 L123.5 1258 Z" fill="#ff8000"/>
<rect x="40" y="1268" width="1422" height="2" fill="#cdd4de"/>
<rect x="118" y="1268" width="2" height="32" fill="#cdd4de"/>
<rect x="198" y="1268" width="2" height="32" fill="#cdd4de"/>
<rect x="314" y="1268" width="2" height="32" fill="#cdd4de"/>
<rect x="466" y="1268" width="2" height="32" fill="#cdd4de"/>
<rect x="582" y="1268" width="2" height="32" fill="#cdd4de"/>
<rect x="698" y="1268" width="2" height="32" fill="#cdd4de"/>
<rect x="802" y="1268" width="2" height="32" fill="#cdd4de"/>
<rect x="906" y="1268" width="2" height="32" fill="#cdd4de"/>
<rect x="1046" y="1268" width="2" height="32" fill="#cdd4de"/>
<rect x="1102" y="1268" width="2" height="32" fill="#cdd4de"/>
<rect x="1102" y="1298" width="360" height="2" fill="#cdd4de"/>
<rect x="200" y="1268" width="114" height="32" fill="#ff6600"/>
<text x="55.3" y="1293.88" textLength="48.4" lengthAdjust="spacingAndGlyphs" font-family="'Liberation Sans','Noto Sans CJK SC',sans-serif" font-size="24.2" fill="#232c48">指标</text>
<text x="135.3" y="1293.88" textLength="48.4" lengthAdjust="spacingAndGlyphs" font-family="'Liberation Sans','Noto Sans CJK SC',sans-serif" font-size="24.2" fill="#232c48">模板</text>
<text x="252.2" y="1293.88" textLength="48" lengthAdjust="spacingAndGlyphs" font-family="'Liberation Sans','Noto Sans CJK SC',sans-serif" font-size="24" fill="#fff">指标</text>
<text x="217.0" y="1292.5" textLength="35.0" lengthAdjust="spacingAndGlyphs" font-family="Liberation Mono" font-size="25" font-weight="normal" fill="#fff" stroke="#fff" stroke-width="0.5">VIP</text>
<text x="331.6" y="1292.5" textLength="118.9" lengthAdjust="spacingAndGlyphs" font-family="Liberation Mono" font-size="25" font-weight="normal" fill="#232c48" stroke="#232c48" stroke-width="0.5">BARUPDN_UD</text>
<text x="484.2" y="1292.5" textLength="82.1" lengthAdjust="spacingAndGlyphs" font-family="Liberation Mono" font-size="25" font-weight="normal" fill="#232c48" stroke="#232c48" stroke-width="0.5">BIAS_UD</text>
<text x="600.0" y="1292.5" textLength="82.2" lengthAdjust="spacingAndGlyphs" font-family="Liberation Mono" font-size="25" font-weight="normal" fill="#232c48" stroke="#232c48" stroke-width="0.5">BOLL_UD</text>
<text x="715.6" y="1292.5" textLength="70.7" lengthAdjust="spacingAndGlyphs" font-family="Liberation Mono" font-size="25" font-weight="normal" fill="#232c48" stroke="#232c48" stroke-width="0.5">CCI_UD</text>
<text x="820.0" y="1292.5" textLength="70.0" lengthAdjust="spacingAndGlyphs" font-family="Liberation Mono" font-size="25" font-weight="normal" fill="#232c48" stroke="#232c48" stroke-width="0.5">DMI_UD</text>
<text x="924.0" y="1292.5" textLength="106.0" lengthAdjust="spacingAndGlyphs" font-family="Liberation Mono" font-size="25" font-weight="normal" fill="#232c48" stroke="#232c48" stroke-width="0.5">INSIDE_UD</text>
<text x="1065.6" y="1292.5" textLength="21.1" lengthAdjust="spacingAndGlyphs" font-family="Liberation Mono" font-size="25" font-weight="normal" fill="#232c48" stroke="#232c48" stroke-width="0.5">&gt;&gt;</text>
<text x="1333.8" y="1275.3" textLength="98.2" lengthAdjust="spacing" font-family="Liberation Sans" font-size="30" fill="#c9b09a" stroke="#c9b09a" stroke-width="0.4" opacity="0.75">FX678</text>
<text x="1332.8" y="1274.3" textLength="98.2" lengthAdjust="spacing" font-family="Liberation Sans" font-size="30" fill="#dbe8f8" stroke="#dbe8f8" stroke-width="0.5">FX678</text>
</svg>
</body></html>
